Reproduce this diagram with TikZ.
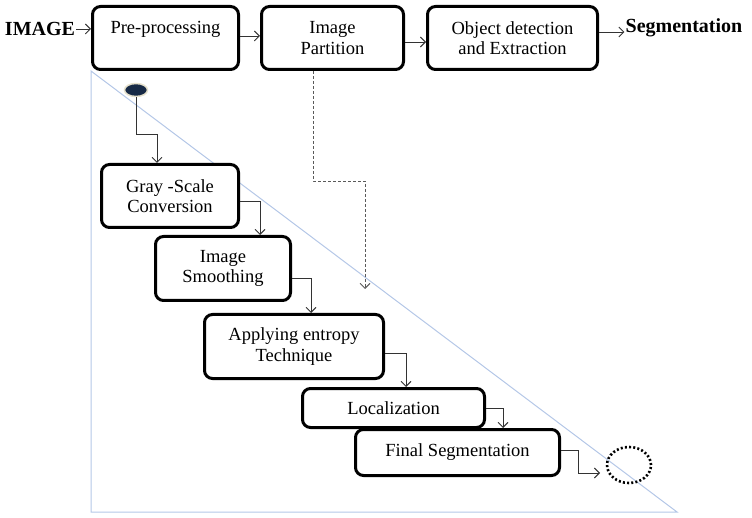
\documentclass[tikz,border=0pt]{standalone}
\usepackage{fontspec}
\setmainfont{Liberation Serif}
\usetikzlibrary{arrows.meta,shapes.geometric}
\definecolor{triblue}{HTML}{B4C7E7}
\definecolor{dotnavy}{HTML}{172A46}
\definecolor{dotrim}{HTML}{E6E1CC}
\begin{document}
\begin{tikzpicture}[x=1pt,y=-1pt,
  box/.style={draw, fill=white, rounded corners=8pt, line width=3pt, inner sep=0pt, align=center,
    font=\fontsize{18.5}{20.5}\selectfont},
  boldlbl/.style={inner sep=1pt, font=\fontsize{20}{22}\selectfont\bfseries},
  arr/.style={-{Straight Barb[length=5pt,width=10pt]}, line width=0.9pt, draw=black!80},
  dashline/.style={arr, draw=black!65, dash pattern=on 3pt off 2pt}]
\useasboundingbox (0,0) rectangle (752,518);
% light triangle in the background
\draw[triblue, line width=1pt] (91,71) -- (91,512) -- (677,512) -- cycle;
% top row
\node[box, minimum width=146pt, minimum height=63pt] (pre) at (165.5,38) {Pre-processing\\\mbox{}};
\node[box, minimum width=142pt, minimum height=63pt] (part) at (332.5,38) {Image\\Partition};
\node[box, minimum width=170pt, minimum height=63pt] (obj) at (512.5,38) {Object detection\\and Extraction};
\node[boldlbl] (img) at (40,29) {IMAGE};
\node[boldlbl] (seg) at (684,28) {Segmentation};
% staircase
\node[box, minimum width=137pt, minimum height=63pt] (gray) at (170,196) {Gray -Scale\\Conversion};
\node[box, minimum width=135pt, minimum height=64pt] (smooth) at (223,268.5) {Image\\Smoothing};
\node[box, minimum width=179pt, minimum height=64pt] (apply) at (294,346.5) {Applying entropy\\Technique};
\node[box, minimum width=182pt, minimum height=39pt] (local) at (393.5,408) {Localization};
\node[box, minimum width=204pt, minimum height=46pt] (final) at (457.5,452.5) {Final Segmentation};
% start and end markers
\node[ellipse, fill=dotnavy, draw=dotrim, line width=1.5pt, minimum width=23pt, minimum height=13pt, inner sep=0pt] (start) at (136,90) {};
\node[ellipse, draw, line width=2.6pt, dash pattern=on 2pt off 2.2pt, minimum width=44pt, minimum height=36pt, inner sep=0pt] (stop) at (629,465) {};
\coordinate (dashend) at (365,289);
\coordinate (stopin) at (600,473);
% connectors top row
\draw[arr] (img.east) -- (pre.west |- img.east);
\draw[arr] ([yshift=2pt]pre.east) -- ([yshift=2pt]part.west);
\draw[arr] ([yshift=-4pt]part.east) -- ([yshift=-4pt]obj.west);
\draw[arr] ([yshift=6pt]obj.east) -- (seg.west |- 0,32);
% dashed link
\draw[dashline] ([xshift=-19.5pt]part.south) -- ++(0,110) -| (dashend);
% staircase connectors
\draw[arr] (start.south) -- ++(0,37) -| ([xshift=-13pt]gray.north);
\draw[arr] ([yshift=-5pt]gray.east) -| ([xshift=37pt]smooth.north);
\draw[arr] ([yshift=-9.5pt]smooth.east) -| ([xshift=17pt]apply.north);
\draw[arr] ([yshift=-6.5pt]apply.east) -| ([xshift=12.5pt]local.north);
\draw[arr] (local.east) -| ([xshift=45.5pt]final.north);
\draw[arr] ([yshift=2.5pt]final.east) -- ++(17,0) |- (stopin);
\end{tikzpicture}
\end{document}
